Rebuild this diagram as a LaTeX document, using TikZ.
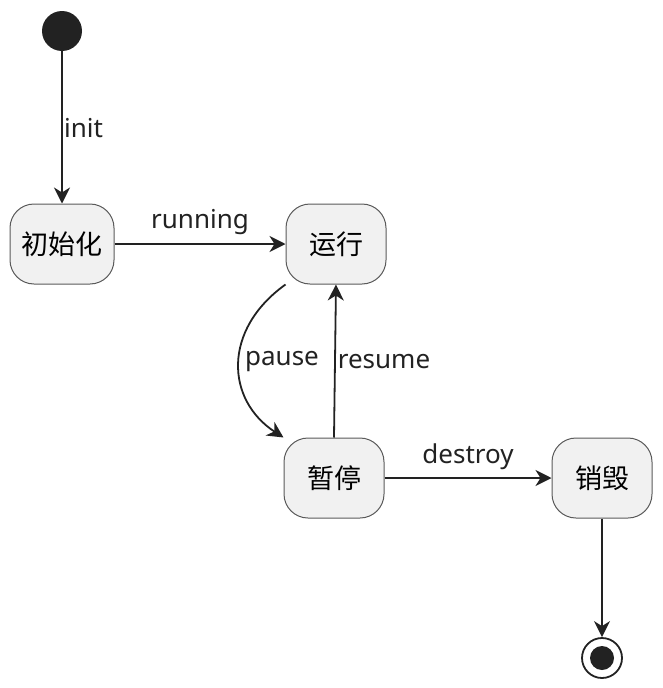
\documentclass[tikz,border=0pt]{standalone}
\usepackage{fontspec}
\setmainfont{Noto Sans}
\newfontfamily\cjk{Noto Sans CJK SC}
\usetikzlibrary{arrows.meta}
\definecolor{boxfill}{HTML}{F1F1F1}
\definecolor{boxline}{HTML}{5A5A5A}
\definecolor{ink}{HTML}{222222}
\tikzset{
  statebox/.style={draw=boxline, line width=1pt, fill=boxfill, rounded corners=24pt,
    minimum width=100pt, minimum height=80pt, inner sep=0pt, font=\cjk\fontsize{27}{30}\selectfont},
  conn/.style={draw=ink, line width=1.8pt, -{Stealth[length=16pt,width=16pt,inset=5pt]}},
  lbl/.style={font=\fontsize{26}{30}\selectfont, inner sep=0pt, text=ink},
}
\begin{document}
\begin{tikzpicture}[x=1pt,y=-1pt]
\useasboundingbox (0,0) rectangle (662,688);
\node[circle, fill=ink, minimum size=40pt, inner sep=0pt] (start) at (62,31) {};
\node[statebox, minimum width=104pt] (init) at (62,244) {初始化};
\node[statebox] (run) at (336,244) {运行};
\node[statebox] (pause) at (334,478) {暂停};
\node[statebox] (destroy) at (602,478) {销毁};
\node[circle, draw=ink, line width=1.8pt, fill=white, minimum size=40pt, inner sep=0pt] (end) at (602,658) {};
\node[circle, fill=ink, minimum size=24pt, inner sep=0pt] (endin) at (602,658) {};

\draw[conn] (start) -- (init);
\node[lbl, anchor=west] (linit) at (64,128) {init};
\draw[conn] (init) -- (run);
\node[lbl] (lrun) at (200,222) {running};
\draw[conn] (run.south west) .. controls (222,330) and (226,400) .. (pause.north west);
\node[lbl] (lpause) at (282,362) {pause};
\draw[conn] (pause.north) -- (run.south);
\node[lbl] (lres) at (384,362) {resume};
\draw[conn] (pause) -- (destroy);
\node[lbl] (ldes) at (468,457) {destroy};
\draw[conn] (destroy) -- (end);
\end{tikzpicture}
\end{document}
